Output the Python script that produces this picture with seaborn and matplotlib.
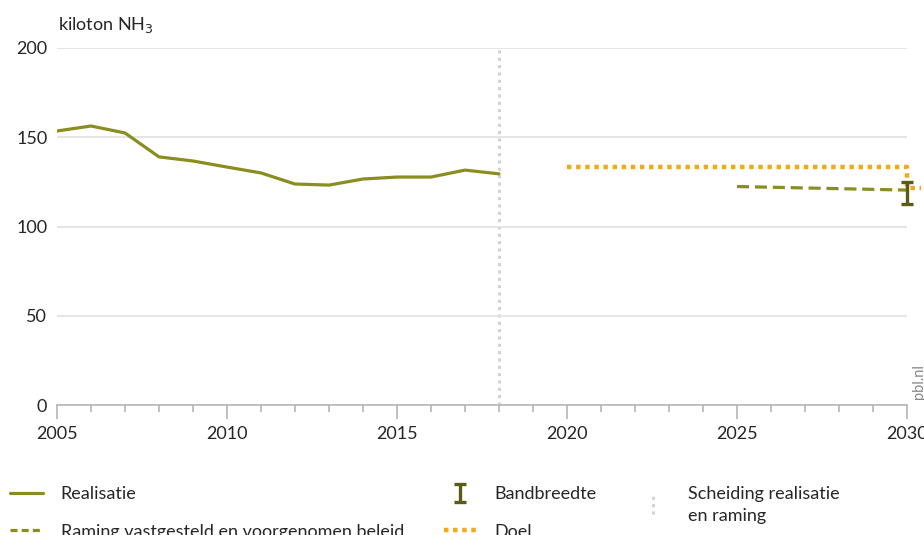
import seaborn as sns
import matplotlib.pyplot as plt
import pandas as pd
from matplotlib.lines import Line2D
from matplotlib.ticker import MultipleLocator

# data
years = list(range(2005, 2019))
realisatie = [153.5, 156.3, 152.4, 139.0, 136.7, 133.3, 130.0, 123.8, 123.2, 126.6, 127.7, 127.7, 131.6, 129.5]
raming_years = [2025, 2030]
raming = [122.4, 120.4]
doel_years = [2020, 2030, 2030, 2030.4]
doel = [133.3, 133.3, 121.5, 121.5]
band_year = 2030
band_low, band_high = 112.6, 125.0
scheiding_year = 2018

green = "#8a8d1f"
dark_green = "#5b5a17"
orange = "#f0a91a"
grey = "#d2d2d2"

sns.set_style("white")
plt.rcParams['font.family'] = ['Lato', 'DejaVu Sans']

fig = plt.figure(figsize=(9.24, 5.35), dpi=100)
ax = fig.add_axes([57 / 924, 1 - 405 / 535, 850 / 924, 357 / 535])

df = pd.DataFrame({"jaar": years, "waarde": realisatie})
sns.lineplot(data=df, x="jaar", y="waarde", ax=ax, color=green, lw=2.3)

df_r = pd.DataFrame({"jaar": raming_years, "waarde": raming})
sns.lineplot(data=df_r, x="jaar", y="waarde", ax=ax, color=green, lw=2.3)
ax.lines[-1].set_dashes([3.8, 1.8])

df_d = pd.DataFrame({"jaar": doel_years, "waarde": doel})
sns.lineplot(data=df_d, x="jaar", y="waarde", ax=ax, color=orange, lw=3.2, sort=False,
             estimator=None)
ax.lines[-1].set_dashes([1, 1.05])
ax.lines[-1].set_clip_on(False)

# separator between realisation and projection (0..200)
sch = ax.errorbar([scheiding_year], [100], yerr=[100], fmt='none', ecolor=grey,
                  elinewidth=2.2, capsize=0, zorder=0)
sch[2][0].set_linestyle((0, (1, 1.4)))

mid = (band_low + band_high) / 2
band = ax.errorbar([band_year], [mid], yerr=[[mid - band_low], [band_high - mid]], fmt='none',
                   ecolor=dark_green, elinewidth=2.4, capsize=4.5, capthick=2.4, zorder=5,
                   clip_on=False)
for c in band[1]:
    c.set_clip_on(False)

ax.set_xlim(2005, 2030)
ax.set_ylim(0, 200)
ax.set_yticks([0, 50, 100, 150, 200])
ax.set_xticks([2005, 2010, 2015, 2020, 2025, 2030])
ax.xaxis.set_minor_locator(MultipleLocator(1))
ax.grid(axis='y', color='#e3e3e3', lw=1.3)
ax.set_xlabel("")
ax.set_ylabel("")
for s in ['top', 'right', 'left']:
    ax.spines[s].set_visible(False)
ax.spines['bottom'].set_color('#b5b5b5')
ax.spines['bottom'].set_linewidth(1.2)
ax.tick_params(axis='x', which='major', direction='out', length=10, width=1.2, color='#b5b5b5',
               labelsize=13, pad=5, bottom=True)
ax.tick_params(axis='x', which='minor', direction='out', length=5, width=1.2, color='#b5b5b5',
               bottom=True)
ax.tick_params(axis='y', length=0, labelsize=13, pad=7)

fig.text(58 / 924, 1 - 30 / 535, "kiloton NH$_3$", fontsize=13, va='baseline', ha='left')
fig.text(912 / 924, 1 - 399 / 535, "pbl.nl", rotation=90, fontsize=10.5, color='#888888',
         ha='left', va='bottom')

h_real = Line2D([], [], color=green, lw=2.3)
h_ram = Line2D([], [], color=green, lw=2.3, dashes=[2.2, 1.3])
h_doel = Line2D([], [], color=orange, lw=3.2, dashes=[1, 1.05])

kw = dict(frameon=False, fontsize=13, handlelength=1.8, handletextpad=1.0, labelspacing=1.2,
          borderaxespad=0, borderpad=0)
fig.legend([h_real, h_ram], ["Realisatie", "Raming vastgesteld en voorgenomen beleid"],
           loc='upper left', bbox_to_anchor=(10 / 924, 1 - 486 / 535), **kw)
fig.legend([band, h_doel], ["Bandbreedte", "Doel"],
           loc='upper left', bbox_to_anchor=(444 / 924, 1 - 486 / 535), **kw)
leg3 = fig.legend([sch], ["Scheiding realisatie\nen raming"],
                  loc='upper left', bbox_to_anchor=(637 / 924, 1 - 486 / 535), **kw)
leg3.get_texts()[0].set_linespacing(1.45)

fig.savefig("out.png", dpi=100)
